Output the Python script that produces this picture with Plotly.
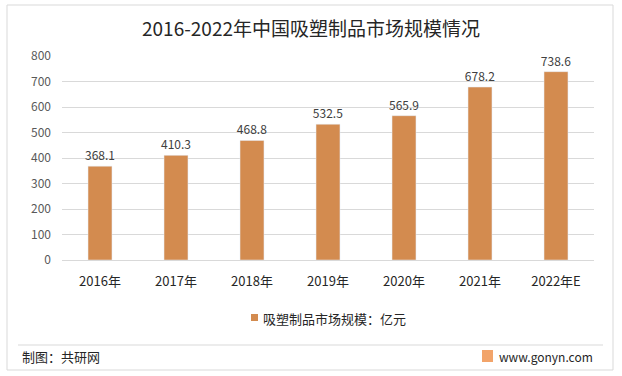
import plotly.graph_objects as go

categories = ["2016年", "2017年", "2018年", "2019年", "2020年", "2021年", "2022年E"]
values = [368.1, 410.3, 468.8, 532.5, 565.9, 678.2, 738.6]
series_name = "吸塑制品市场规模：亿元"
y_ticks = [0, 100, 200, 300, 400, 500, 600, 700, 800]

BAR = "#D38B4F"
FONT = "Microsoft YaHei, Noto Sans CJK SC, sans-serif"

W, H = 622, 376
L, R, T, B = 62, 28, 56, 116
PW, PH = W - L - R, H - T - B


def px(x):
    return (x - L) / PW


def py(y):
    return (H - B - y) / PH


fig = go.Figure()
fig.add_trace(go.Bar(
    x=categories, y=values, name=series_name,
    marker_color=BAR, width=0.315,
    text=[f"{v:.1f}" for v in values], textposition="outside",
    constraintext="none",
    textfont=dict(size=12, color="#404040"), cliponaxis=False,
    showlegend=False,
))

fig.update_layout(
    width=W, height=H, margin=dict(l=L, r=R, t=T, b=B),
    paper_bgcolor="white", plot_bgcolor="white",
    font=dict(family=FONT, color="#595959"),
    title=dict(text="2016-2022年中国吸塑制品市场规模情况", x=0.5, xanchor="center",
               y=1 - 29 / H, yanchor="middle", font=dict(size=19, color="#262626")),
    showlegend=False,
)
fig.update_yaxes(range=[0, 800], tickvals=y_ticks, showgrid=True, gridcolor="#D9D9D9",
                 gridwidth=1, zeroline=False, showline=False, ticks="",
                 tickfont=dict(size=12, color="#595959"), ticklabelstandoff=10)
fig.update_xaxes(showline=True, linecolor="#D9D9D9", ticks="",
                 tickfont=dict(size=13, color="#262626"), ticklabelstandoff=9)

# outer border
fig.add_shape(type="rect", xref="paper", yref="paper",
              x0=px(7), x1=px(613), y0=py(370), y1=py(5),
              line=dict(color="#D9D9D9", width=1), layer="below")
# separator
fig.add_shape(type="line", xref="paper", yref="paper",
              x0=px(18), x1=px(603), y0=py(345), y1=py(345),
              line=dict(color="#D9D9D9", width=1))
# legend (manual)
fig.add_shape(type="rect", xref="paper", yref="paper",
              x0=px(251), x1=px(258), y0=py(321), y1=py(314),
              fillcolor=BAR, line=dict(width=0))
fig.add_annotation(text=series_name, xref="paper", yref="paper",
                   x=px(261), y=py(318), xanchor="left", yanchor="middle",
                   showarrow=False, font=dict(size=13, color="#262626"))
# logo square
fig.add_shape(type="rect", xref="paper", yref="paper",
              x0=px(482), x1=px(493), y0=py(362), y1=py(350),
              fillcolor="#F2A46A", line=dict(width=0))

fig.add_annotation(text="制图：共研网", xref="paper", yref="paper",
                   x=px(20), y=py(356), xanchor="left", yanchor="middle", showarrow=False,
                   font=dict(size=13, color="#262626"))
fig.add_annotation(text="www.gonyn.com", xref="paper", yref="paper",
                   x=px(595), y=py(356), xanchor="right", yanchor="middle", showarrow=False,
                   font=dict(size=12, color="#262626"))

fig.write_html("out.html", config={"displayModeBar": False},
               post_script="document.body.style.margin='0';")
